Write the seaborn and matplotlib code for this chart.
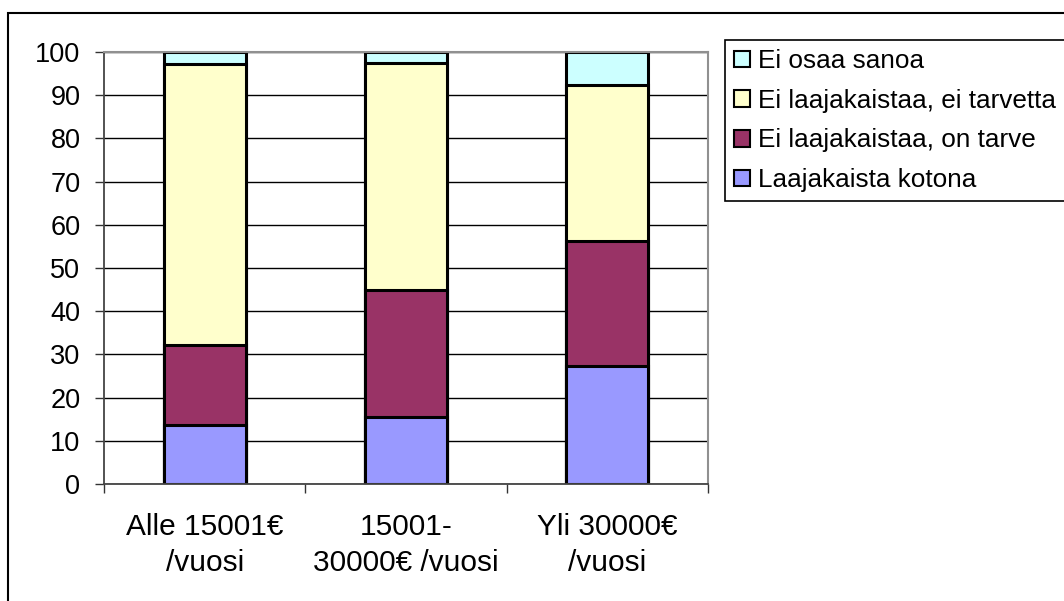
import numpy as np
import pandas as pd
import matplotlib
matplotlib.use("Agg")
import matplotlib.pyplot as plt
from matplotlib.patches import Patch, Rectangle
import seaborn as sns

categories = ["Alle 15001€\n/vuosi", "15001-\n30000€ /vuosi", "Yli 30000€\n/vuosi"]
series_names = ["Laajakaista kotona", "Ei laajakaistaa, on tarve",
                "Ei laajakaistaa, ei tarvetta", "Ei osaa sanoa"]
laajakaista_kotona = [13.7, 15.6, 27.4]
on_tarve = [18.5, 29.3, 28.8]
ei_tarvetta = [65.0, 52.6, 36.2]
ei_osaa_sanoa = [2.8, 2.5, 7.6]
y_ticks = [0, 10, 20, 30, 40, 50, 60, 70, 80, 90, 100]

colors = ["#9999FF", "#993366", "#FFFFCC", "#CCFFFF"]

sns.set_theme(style="white")
plt.rcParams["font.family"] = ["Liberation Sans", "DejaVu Sans"]
plt.rcParams["text.color"] = "black"
plt.rcParams["xtick.color"] = "black"
plt.rcParams["ytick.color"] = "black"

layers = [laajakaista_kotona, on_tarve, ei_tarvetta, ei_osaa_sanoa]
cum = np.cumsum(np.array(layers), axis=0)
df = pd.DataFrame({"cat": categories})
for i, name in enumerate(series_names):
    df[name] = cum[i]

fig = plt.figure(figsize=(10.64, 6.01), dpi=100)
ax = fig.add_axes([104/1064, 1 - 484/601, (708-104)/1064, (484-52)/601])

for i in reversed(range(len(series_names))):
    sns.barplot(data=df, x="cat", y=series_names[i], color=colors[i], saturation=1,
                width=0.407, edgecolor="black", linewidth=2.2, errorbar=None, ax=ax)

ax.set_ylim(0, 100)
ax.set_xlim(-0.5, 2.5)
ax.set_yticks(y_ticks)
ax.set_yticklabels([str(t) for t in y_ticks], fontsize=19.5, color="black")
ax.set_xlabel("")
ax.set_ylabel("")
ax.set_axisbelow(True)
ax.yaxis.grid(True, color="black", linewidth=1.0)
ax.xaxis.grid(False)

ax.set_xticks([0, 1, 2])
ax.set_xticklabels(categories, fontsize=21.5, linespacing=1.35, color="black")
ax.set_xticks([-0.5, 0.5, 1.5, 2.5], minor=True)
ax.tick_params(axis="x", which="major", length=0, pad=21)
ax.tick_params(axis="x", which="minor", length=6.5, width=1, color="#333333", direction="out", bottom=True)
ax.tick_params(axis="y", which="major", length=6.5, width=1, color="#333333", direction="out", left=True, pad=10.5)

for s in ["left", "bottom"]:
    ax.spines[s].set_color("#444444")
    ax.spines[s].set_linewidth(1.3)
for s in ["top", "right"]:
    ax.spines[s].set_color("#909090")
    ax.spines[s].set_linewidth(1.5)

handles = [Patch(facecolor=colors[i], edgecolor="black", linewidth=1.5, label=series_names[i])
           for i in reversed(range(len(series_names)))]
leg = fig.legend(handles=handles, loc="upper left", bbox_to_anchor=(725/1064, 1 - 40/601),
                 fontsize=18.8, frameon=True, fancybox=False, edgecolor="black", framealpha=1,
                 handlelength=0.6, handleheight=0.6, handletextpad=0.3,
                 borderpad=0.35, labelspacing=0.6, borderaxespad=0)
leg.get_frame().set_linewidth(1.2)
for t in leg.get_texts():
    t.set_color("black")

fig.patches.append(Rectangle((8/1064, -0.2), 1.2, 1 - 13/601 + 0.2, transform=fig.transFigure,
                             fill=False, edgecolor="black", linewidth=1.5, zorder=10))

fig.savefig("out.png", dpi=100)
